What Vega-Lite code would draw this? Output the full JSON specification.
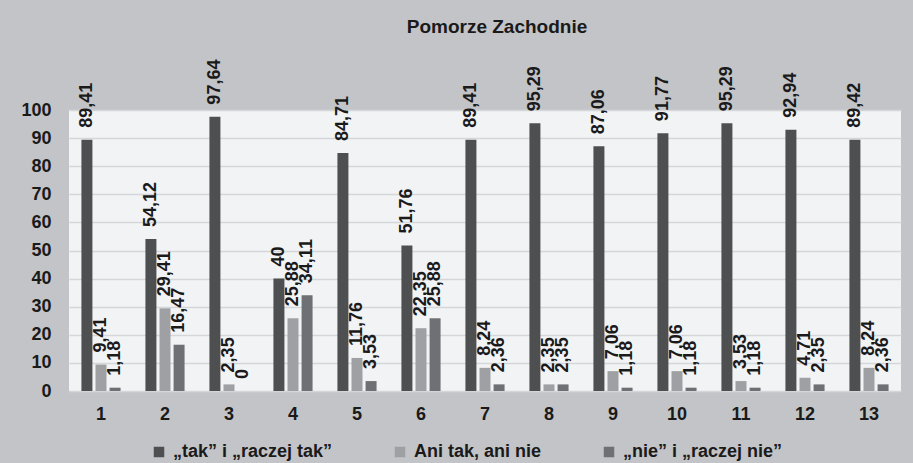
{
  "$schema": "https://vega.github.io/schema/vega-lite/v6.json",
  "width": 832,
  "height": 281,
  "autosize": {"type": "none"},
  "padding": {"left": 69, "top": 110, "right": 12, "bottom": 72},
  "background": "#c3c4c7",
  "title": {
    "text": "Pomorze Zachodnie",
    "frame": "group",
    "anchor": "middle",
    "dx": 12,
    "offset": 23,
    "font": "Liberation Sans",
    "fontSize": 19,
    "fontWeight": "bold",
    "color": "#1a1a1a"
  },
  "config": {
    "locale": {"number": {"decimal": ",", "thousands": "\u00a0", "grouping": [3], "currency": ["", " zł"]}},
    "view": {"fill": "#f2f3f5", "stroke": null},
    "font": "Liberation Sans"
  },
  "data": {
    "values": [
      {"q": 1, "s": "„tak” i „raczej tak”", "v": 89.41},
      {"q": 1, "s": "Ani tak, ani nie", "v": 9.41},
      {"q": 1, "s": "„nie” i „raczej nie”", "v": 1.18},
      {"q": 2, "s": "„tak” i „raczej tak”", "v": 54.12},
      {"q": 2, "s": "Ani tak, ani nie", "v": 29.41},
      {"q": 2, "s": "„nie” i „raczej nie”", "v": 16.47},
      {"q": 3, "s": "„tak” i „raczej tak”", "v": 97.64},
      {"q": 3, "s": "Ani tak, ani nie", "v": 2.35},
      {"q": 3, "s": "„nie” i „raczej nie”", "v": 0},
      {"q": 4, "s": "„tak” i „raczej tak”", "v": 40},
      {"q": 4, "s": "Ani tak, ani nie", "v": 25.88},
      {"q": 4, "s": "„nie” i „raczej nie”", "v": 34.11},
      {"q": 5, "s": "„tak” i „raczej tak”", "v": 84.71},
      {"q": 5, "s": "Ani tak, ani nie", "v": 11.76},
      {"q": 5, "s": "„nie” i „raczej nie”", "v": 3.53},
      {"q": 6, "s": "„tak” i „raczej tak”", "v": 51.76},
      {"q": 6, "s": "Ani tak, ani nie", "v": 22.35},
      {"q": 6, "s": "„nie” i „raczej nie”", "v": 25.88},
      {"q": 7, "s": "„tak” i „raczej tak”", "v": 89.41},
      {"q": 7, "s": "Ani tak, ani nie", "v": 8.24},
      {"q": 7, "s": "„nie” i „raczej nie”", "v": 2.36},
      {"q": 8, "s": "„tak” i „raczej tak”", "v": 95.29},
      {"q": 8, "s": "Ani tak, ani nie", "v": 2.35},
      {"q": 8, "s": "„nie” i „raczej nie”", "v": 2.35},
      {"q": 9, "s": "„tak” i „raczej tak”", "v": 87.06},
      {"q": 9, "s": "Ani tak, ani nie", "v": 7.06},
      {"q": 9, "s": "„nie” i „raczej nie”", "v": 1.18},
      {"q": 10, "s": "„tak” i „raczej tak”", "v": 91.77},
      {"q": 10, "s": "Ani tak, ani nie", "v": 7.06},
      {"q": 10, "s": "„nie” i „raczej nie”", "v": 1.18},
      {"q": 11, "s": "„tak” i „raczej tak”", "v": 95.29},
      {"q": 11, "s": "Ani tak, ani nie", "v": 3.53},
      {"q": 11, "s": "„nie” i „raczej nie”", "v": 1.18},
      {"q": 12, "s": "„tak” i „raczej tak”", "v": 92.94},
      {"q": 12, "s": "Ani tak, ani nie", "v": 4.71},
      {"q": 12, "s": "„nie” i „raczej nie”", "v": 2.35},
      {"q": 13, "s": "„tak” i „raczej tak”", "v": 89.42},
      {"q": 13, "s": "Ani tak, ani nie", "v": 8.24},
      {"q": 13, "s": "„nie” i „raczej nie”", "v": 2.36}
    ]
  },
  "encoding": {
    "x": {
      "field": "q",
      "type": "ordinal",
      "scale": {"paddingInner": 0.34, "paddingOuter": 0.17},
      "axis": {
        "title": null,
        "labelAngle": 0,
        "domain": false,
        "ticks": false,
        "labelPadding": 14,
        "labelFontSize": 18,
        "labelFontWeight": "bold",
        "labelColor": "#1a1a1a",
        "labelFont": "Liberation Sans"
      }
    },
    "xOffset": {
      "field": "s",
      "type": "nominal",
      "sort": ["„tak” i „raczej tak”", "Ani tak, ani nie", "„nie” i „raczej nie”"],
      "scale": {"paddingInner": 0.22, "paddingOuter": 0.11}
    },
    "y": {
      "field": "v",
      "type": "quantitative",
      "scale": {"domain": [0, 100], "nice": false},
      "axis": {
        "title": null,
        "values": [0, 10, 20, 30, 40, 50, 60, 70, 80, 90, 100],
        "domain": false,
        "ticks": false,
        "labelPadding": 18,
        "labelFontSize": 18,
        "labelFontWeight": "bold",
        "labelColor": "#1a1a1a",
        "labelFont": "Liberation Sans",
        "gridColor": "#d5d6d9",
        "gridWidth": 1.5
      }
    }
  },
  "layer": [
    {
      "mark": {"type": "bar"},
      "encoding": {
        "color": {
          "field": "s",
          "type": "nominal",
          "sort": ["„tak” i „raczej tak”", "Ani tak, ani nie", "„nie” i „raczej nie”"],
          "scale": {
            "domain": ["„tak” i „raczej tak”", "Ani tak, ani nie", "„nie” i „raczej nie”"],
            "range": ["#4e4f51", "#9fa0a3", "#6f7073"]
          },
          "legend": {
            "title": null,
            "orient": "none",
            "direction": "horizontal",
            "legendX": 81,
            "legendY": 333,
            "padding": 0,
            "symbolType": "square",
            "symbolSize": 110,
            "symbolStrokeWidth": 0,
            "labelFontSize": 18,
            "labelFontWeight": "bold",
            "labelFont": "Liberation Sans",
            "labelColor": "#1a1a1a",
            "labelOffset": 5,
            "columnPadding": 58,
            "labelLimit": 300
          }
        }
      }
    },
    {
      "mark": {
        "type": "text",
        "angle": 270,
        "align": "left",
        "baseline": "middle",
        "dx": 12,
        "font": "Liberation Sans",
        "fontSize": 18,
        "fontWeight": "bold",
        "color": "#1a1a1a"
      },
      "encoding": {
        "text": {"field": "v", "type": "quantitative", "format": "~r"}
      }
    }
  ]
}
